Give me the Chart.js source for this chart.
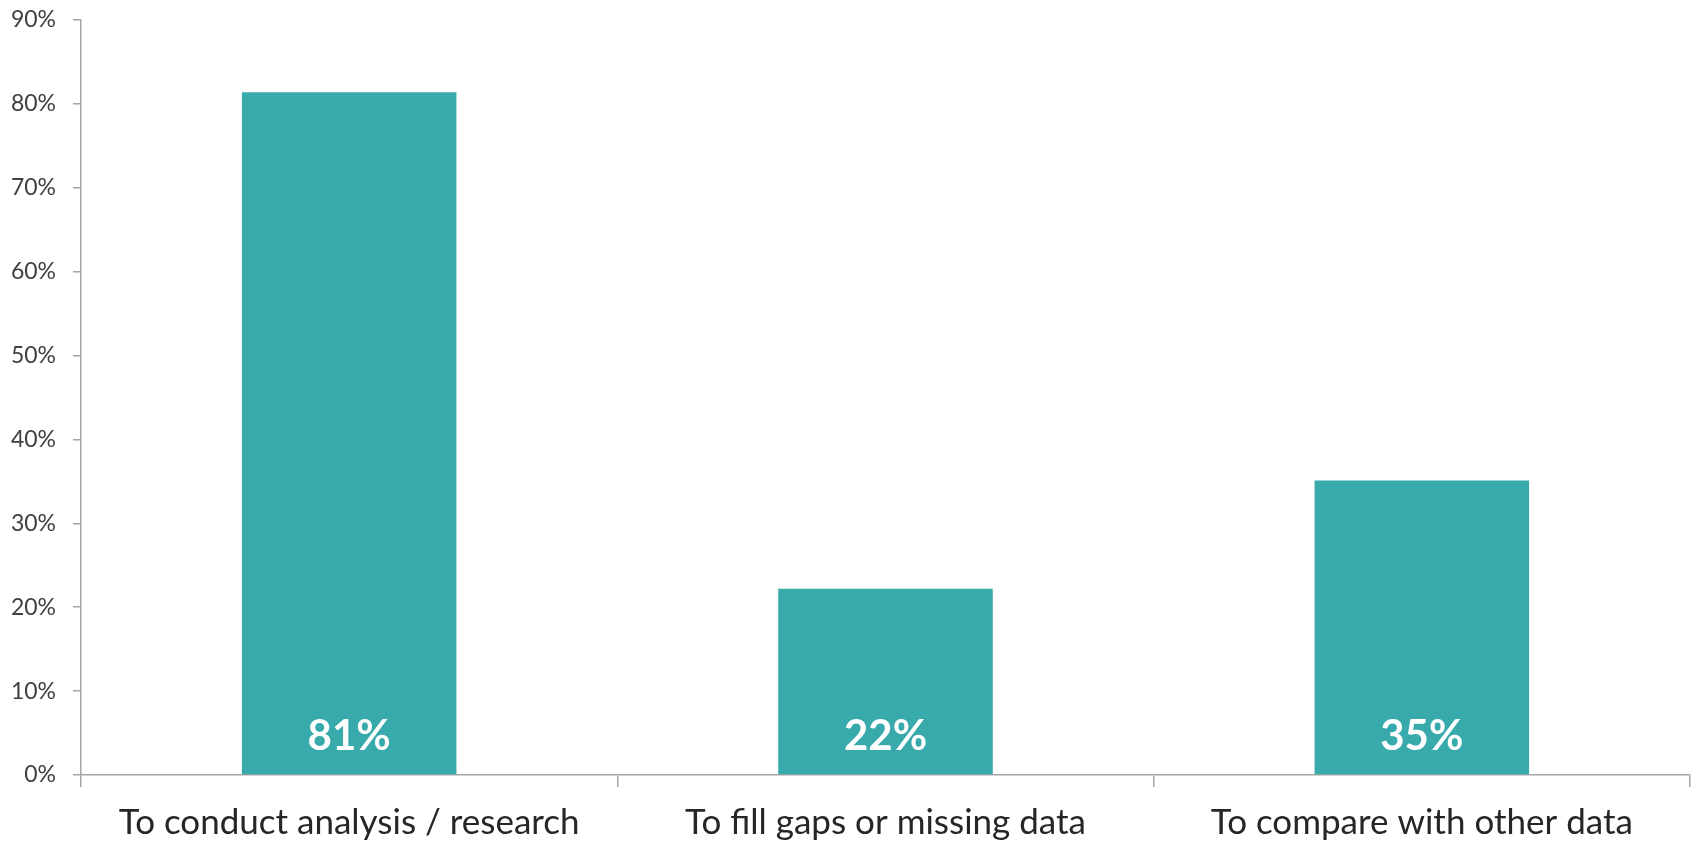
<!DOCTYPE html>
<html>
<head>
<meta charset="utf-8">
<script src="https://cdn.jsdelivr.net/npm/chart.js@4.4.0/dist/chart.umd.min.js"></script>
<style>
  html, body { margin: 0; padding: 0; background: #fff; }
  .chart-wrap { width: 1696px; height: 842px; position: relative; }
</style>
</head>
<body>
<div class="chart-wrap"><canvas id="usage"></canvas></div>
<script>
// Data
const categories = ["To conduct analysis / research", "To fill gaps or missing data", "To compare with other data"];
const shares = [81.4, 22.2, 35.1];
const yTicks = [0, 10, 20, 30, 40, 50, 60, 70, 80, 90];

const TEAL = '#38AAAB';
const AXIS = '#A6A6A6';

// label putih di dasar batang
const barLabels = {
  id: 'barLabels',
  afterDatasetsDraw(chart) {
    const ctx = chart.ctx;
    const meta = chart.getDatasetMeta(0);
    ctx.save();
    ctx.fillStyle = '#fff';
    ctx.font = 'bold 42px Lato';
    ctx.textAlign = 'center';
    ctx.textBaseline = 'middle';
    meta.data.forEach((bar, i) => {
      ctx.fillText(Math.round(shares[i]) + '%', bar.x, bar.base - 38);
    });
    ctx.restore();
  }
};

new Chart(document.getElementById('usage'), {
  type: 'bar',
  data: {
    labels: categories,
    datasets: [{ data: shares, backgroundColor: TEAL, borderWidth: 0 }]
  },
  options: {
    responsive: true,
    maintainAspectRatio: false,
    animation: false,
    layout: { padding: { top: 20, right: 6, left: 11, bottom: 0 } },
    plugins: { legend: { display: false }, tooltip: { enabled: false } },
    categoryPercentage: 0.4,
    barPercentage: 1,
    scales: {
      x: {
        afterFit: (s) => { s.height = 67; },
        grid: { display: true, drawOnChartArea: false, offset: true, color: AXIS, tickLength: 12, lineWidth: 1.5 },
        border: { color: AXIS, width: 1.5 },
        ticks: { color: '#262626', font: { family: 'Lato', size: 35 }, padding: 15, maxRotation: 0 }
      },
      y: {
        min: 0, max: 90,
        afterBuildTicks: (s) => { s.ticks = yTicks.map(v => ({ value: v })); },
        afterFit: (s) => { s.width = 70; s.paddingTop = 0; s.paddingBottom = 0; },
        grid: { display: true, drawOnChartArea: false, color: AXIS, tickLength: 8, lineWidth: 1.5 },
        border: { color: AXIS, width: 1.5 },
        ticks: { color: '#404040', font: { family: 'Lato', size: 23 }, padding: 17, callback: (v) => v + '%' }
      }
    }
  },
  plugins: [barLabels]
});
</script>
</body>
</html>
